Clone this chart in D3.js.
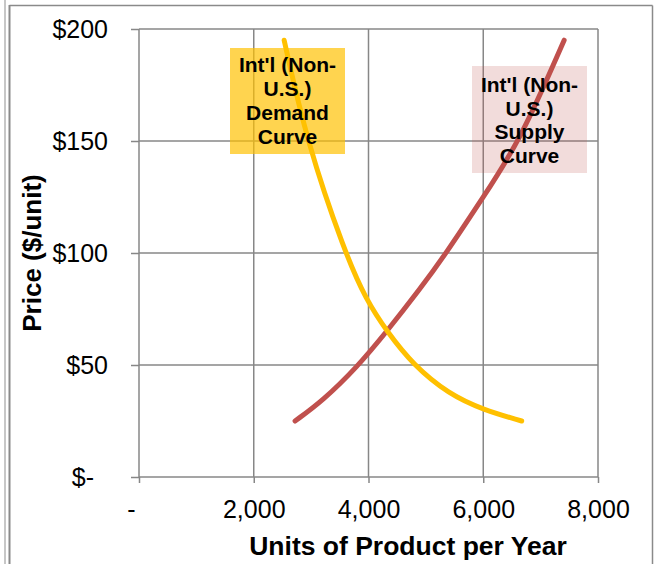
<!DOCTYPE html>
<html>
<head>
<meta charset="utf-8">
<script src="https://cdn.jsdelivr.net/npm/d3@7"></script>
<style>
	body { margin: 0; background: white; }
	svg { display: block; font-family: "Liberation Sans", Arial, sans-serif; }
	.tick text { font-size: 25px; fill: black; }
	.axis path { display: none; }
	.axis line { stroke: #878787; stroke-width: 1.5; }
	.grid line { stroke: #878787; stroke-width: 1.5; }
</style>
</head>
<body>
<script>
/* Data */
var demandUnits = [2530, 2920, 3590, 3960, 4320, 4780, 5400, 6000, 6670];
var demandPrice = [195, 150, 100, 79, 65, 50, 37, 30, 25];
var supplyUnits = [2720, 3200, 3800, 4320, 4900, 5330, 6000, 6640, 7410];
var supplyPrice = [25, 34, 49, 65, 84, 99, 125, 150, 195];
var xTicks = [0, 2000, 4000, 6000, 8000];
var yTicks = [0, 50, 100, 150, 200];
var labelLines = {
	demand: ["Int'l (Non-", "U.S.)", "Demand", "Curve"],
	supply: ["Int'l (Non-", "U.S.)", "Supply", "Curve"]
};

/* Display setup */
var width = 655,
	height = 564,
	plot = {left: 139, right: 598, top: 29, bottom: 477},
	svg = d3.select("body").append("svg")
		.attr("width", width)
		.attr("height", height);

var x = d3.scaleLinear().domain([0, 8000]).range([plot.left, plot.right]),
	y = d3.scaleLinear().domain([0, 200]).range([plot.bottom, plot.top]);

var fmtUnits = d3.format(",");

// outer frame
svg.append("line").attr("x1", 5).attr("x2", 5).attr("y1", 0).attr("y2", height)
	.style("stroke", "#b4b4b4").style("stroke-width", 1.5);
svg.append("line").attr("x1", 9.5).attr("x2", 9.5).attr("y1", 5).attr("y2", height)
	.style("stroke", "#8a8a8a").style("stroke-width", 2);
svg.append("line").attr("x1", 9.5).attr("x2", 652.5).attr("y1", 5.5).attr("y2", 5.5)
	.style("stroke", "#8a8a8a").style("stroke-width", 1.5);
svg.append("line").attr("x1", 652.5).attr("x2", 652.5).attr("y1", 5.5).attr("y2", height)
	.style("stroke", "#8a8a8a").style("stroke-width", 1.5);

/* Gridlines */
var grid = svg.append("g").attr("class", "grid");
grid.selectAll(".h").data(yTicks).enter().append("line")
	.attr("x1", plot.left).attr("x2", plot.right)
	.attr("y1", function(d) { return y(d); })
	.attr("y2", function(d) { return y(d); });
grid.selectAll(".v").data(xTicks).enter().append("line")
	.attr("y1", plot.top).attr("y2", plot.bottom)
	.attr("x1", function(d) { return x(d); })
	.attr("x2", function(d) { return x(d); });

/* Axes */
var yAxis = svg.append("g")
	.attr("class", "axis")
	.attr("transform", "translate(" + plot.left + ",0)")
	.call(d3.axisLeft(y).tickValues(yTicks).tickSize(8).tickPadding(23)
		.tickFormat(function(d) { return d === 0 ? "$-" : "$" + d; }));
yAxis.selectAll("text").attr("dx", function(d) { return d === 0 ? -14 : 0; });

var xAxis = svg.append("g")
	.attr("class", "axis")
	.attr("transform", "translate(0," + plot.bottom + ")")
	.call(d3.axisBottom(x).tickValues(xTicks).tickSize(6).tickPadding(17)
		.tickFormat(function(d) { return d === 0 ? "-" : fmtUnits(d); }));
xAxis.selectAll("text").attr("dx", function(d) { return d === 0 ? -8 : 0; });

/* Axis titles */
svg.append("text")
	.attr("transform", "translate(41,253) rotate(-90)")
	.attr("text-anchor", "middle")
	.style("font-size", "26px")
	.style("font-weight", "bold")
	.text("Price ($/unit)");

svg.append("text")
	.attr("x", 408)
	.attr("y", 555)
	.attr("text-anchor", "middle")
	.style("font-size", "26.5px")
	.style("font-weight", "bold")
	.text("Units of Product per Year");

/* Curves (smoothed like the spreadsheet's smooth lines) */
var line = d3.line()
	.x(function(d) { return x(d[0]); })
	.y(function(d) { return y(d[1]); })
	.curve(d3.curveBasis);

svg.append("path")
	.datum(d3.zip(supplyUnits, supplyPrice))
	.attr("d", line)
	.style("fill", "none")
	.style("stroke", "#C0504D")
	.style("stroke-width", 5)
	.style("stroke-linecap", "round");

svg.append("path")
	.datum(d3.zip(demandUnits, demandPrice))
	.attr("d", line)
	.style("fill", "none")
	.style("stroke", "#FFC000")
	.style("stroke-width", 5)
	.style("stroke-linecap", "round");

/* Curve labels (semi transparent boxes) */
function curveLabel(lines, box, color, opacity, lineStep) {
	var g = svg.append("g");
	g.append("rect")
		.attr("x", box.x).attr("y", box.y)
		.attr("width", box.w).attr("height", box.h)
		.style("fill", color)
		.style("fill-opacity", opacity);
	g.selectAll("text").data(lines).enter().append("text")
		.attr("x", box.x + box.w / 2)
		.attr("y", function(d, i) { return box.y + box.firstBase + i * lineStep; })
		.attr("text-anchor", "middle")
		.style("font-size", "21px")
		.style("font-weight", "bold")
		.text(function(d) { return d; });
}

curveLabel(labelLines.demand, {x: 230, y: 48, w: 115, h: 106, firstBase: 24}, "#FFC000", 0.69, 24);
curveLabel(labelLines.supply, {x: 472, y: 66, w: 115, h: 107, firstBase: 26}, "#C0504D", 0.2, 23.7);
</script>
</body>
</html>
